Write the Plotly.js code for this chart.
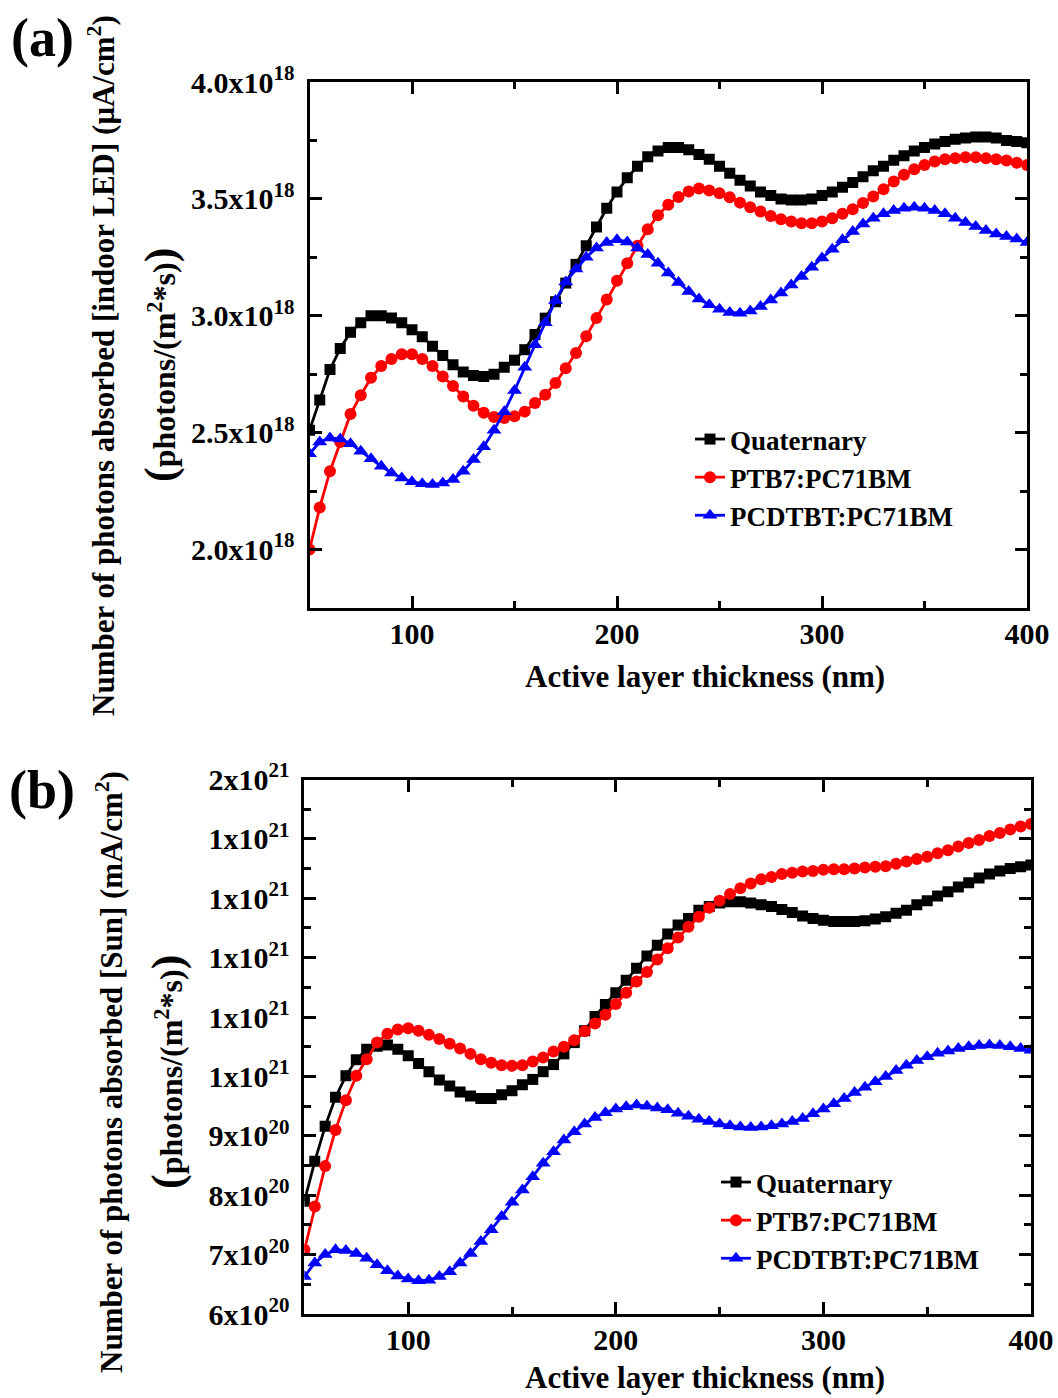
<!DOCTYPE html>
<html>
<head>
<meta charset="utf-8">
<script src="https://cdn.plot.ly/plotly-3.0.1.min.js"></script>
<style>html,body{margin:0;padding:0;background:#fff;}#chart{width:1058px;height:1398px;}</style>
</head>
<body>
<div id="chart"></div>
<script>
// Active layer thickness (nm)
var thickness = [50,55,60,65,70,75,80,85,90,95,100,105,110,115,120,125,130,135,140,145,150,155,160,165,170,175,180,185,190,195,200,205,210,215,220,225,230,235,240,245,250,255,260,265,270,275,280,285,290,295,300,305,310,315,320,325,330,335,340,345,350,355,360,365,370,375,380,385,390,395,400];

// (a) indoor LED, photons/(m^2*s), in units of 1e18
var quatLED = [2.51,2.64,2.77,2.86,2.93,2.97,3.00,3.00,2.99,2.97,
  2.94,2.91,2.87,2.83,2.79,2.76,2.745,2.74,2.75,2.78,
  2.81,2.855,2.92,2.99,3.06,3.14,3.22,3.30,3.38,3.46,
  3.53,3.59,3.64,3.68,3.705,3.72,3.72,3.71,3.69,3.67,
  3.64,3.61,3.58,3.555,3.53,3.515,3.50,3.495,3.495,3.50,
  3.515,3.53,3.55,3.57,3.595,3.62,3.64,3.665,3.685,3.705,
  3.72,3.735,3.745,3.755,3.76,3.765,3.765,3.76,3.75,3.745,
  3.74];
var ptb7LED = [2.00,2.18,2.335,2.46,2.58,2.66,2.735,2.785,2.815,2.835,
  2.835,2.815,2.785,2.74,2.70,2.655,2.615,2.585,2.567,2.563,
  2.57,2.59,2.627,2.662,2.712,2.776,2.841,2.912,2.99,3.07,
  3.15,3.225,3.30,3.37,3.43,3.475,3.508,3.532,3.544,3.536,
  3.524,3.507,3.484,3.464,3.446,3.427,3.413,3.403,3.396,3.396,
  3.403,3.417,3.436,3.456,3.482,3.51,3.541,3.574,3.603,3.627,
  3.645,3.66,3.67,3.674,3.678,3.678,3.674,3.67,3.664,3.655,
  3.645];
var pcdtbtLED = [2.41,2.46,2.477,2.473,2.453,2.42,2.388,2.356,2.328,2.306,
  2.29,2.282,2.278,2.285,2.30,2.335,2.385,2.44,2.51,2.59,
  2.68,2.78,2.876,2.97,3.065,3.145,3.20,3.25,3.29,3.313,
  3.325,3.316,3.29,3.262,3.225,3.183,3.142,3.104,3.072,3.047,
  3.028,3.014,3.011,3.02,3.04,3.068,3.097,3.132,3.168,3.208,
  3.247,3.285,3.325,3.36,3.393,3.417,3.436,3.45,3.46,3.464,
  3.46,3.45,3.436,3.417,3.399,3.382,3.365,3.35,3.339,3.328,
  3.313];

// (b) Sun, photons/(m^2*s), in units of 1e21
var quatSun = [0.79,0.857,0.916,0.965,1.001,1.028,1.046,1.051,1.053,1.046,
  1.035,1.022,1.008,0.994,0.984,0.974,0.967,0.963,0.963,0.969,
  0.976,0.986,0.995,1.008,1.02,1.038,1.057,1.077,1.101,1.121,
  1.141,1.162,1.182,1.203,1.221,1.24,1.255,1.266,1.28,1.286,
  1.292,1.294,1.294,1.292,1.289,1.286,1.281,1.276,1.27,1.266,
  1.263,1.261,1.261,1.261,1.262,1.265,1.269,1.275,1.28,1.289,
  1.296,1.304,1.311,1.319,1.326,1.334,1.341,1.346,1.35,1.353,
  1.356];
var ptb7Sun = [0.708,0.781,0.849,0.91,0.96,1.001,1.029,1.057,1.072,1.079,
  1.081,1.077,1.07,1.063,1.055,1.047,1.038,1.029,1.023,1.019,
  1.018,1.019,1.025,1.032,1.042,1.05,1.061,1.076,1.089,1.104,
  1.122,1.141,1.16,1.176,1.197,1.216,1.234,1.252,1.269,1.284,
  1.296,1.307,1.317,1.325,1.332,1.336,1.341,1.343,1.345,1.346,
  1.348,1.349,1.349,1.35,1.352,1.353,1.354,1.358,1.362,1.366,
  1.37,1.376,1.381,1.387,1.393,1.398,1.405,1.41,1.416,1.421,
  1.425];
var pcdtbtSun = [0.663,0.686,0.70,0.708,0.707,0.702,0.694,0.683,0.673,0.664,
  0.659,0.656,0.657,0.663,0.671,0.686,0.702,0.722,0.742,0.764,
  0.788,0.809,0.831,0.854,0.873,0.893,0.907,0.92,0.931,0.939,
  0.945,0.949,0.952,0.95,0.947,0.944,0.938,0.933,0.928,0.924,
  0.92,0.917,0.915,0.914,0.915,0.917,0.92,0.924,0.929,0.937,
  0.945,0.954,0.963,0.973,0.982,0.991,1.0,1.01,1.019,1.027,
  1.033,1.039,1.043,1.047,1.05,1.052,1.053,1.052,1.05,1.047,
  1.044];

var seriesNames = ["Quaternary", "PTB7:PC71BM", "PCDTBT:PC71BM"];

// tick values / labels
var yTickValsA = [2.0e18, 2.5e18, 3.0e18, 3.5e18, 4.0e18];
var yTickTextA = ["2.0x10<sup>18</sup>","2.5x10<sup>18</sup>","3.0x10<sup>18</sup>","3.5x10<sup>18</sup>","4.0x10<sup>18</sup>"];
var yMinorA = [2.25e18, 2.75e18, 3.25e18, 3.75e18];
var yTickValsB = [6e20, 7e20, 8e20, 9e20, 1.0e21, 1.1e21, 1.2e21, 1.3e21, 1.4e21, 1.5e21];
var yTickTextB = ["6x10<sup>20</sup>","7x10<sup>20</sup>","8x10<sup>20</sup>","9x10<sup>20</sup>","1x10<sup>21</sup>","1x10<sup>21</sup>","1x10<sup>21</sup>","1x10<sup>21</sup>","1x10<sup>21</sup>","2x10<sup>21</sup>"];
var yMinorB = [6.5e20, 7.5e20, 8.5e20, 9.5e20, 1.05e21, 1.15e21, 1.25e21, 1.35e21, 1.45e21];
var xTickVals = [100, 200, 300, 400];
var xMinor = [150, 250, 350];

function scale(arr, f) { return arr.map(function (v) { return v * f; }); }

var FONT = "Liberation Serif, Times New Roman, serif";
var colors = ["#000000", "#ff0000", "#0000ff"];
var symbols = ["square", "circle", "triangle-up"];
var msizes = [11, 12, 13];

function mk(y, i, xa, ya, leg) {
  return {
    x: thickness, y: y, type: "scatter", mode: "lines+markers",
    name: seriesNames[i], xaxis: xa, yaxis: ya, legend: leg,
    line: {color: colors[i], width: 2.8},
    marker: {color: colors[i], symbol: symbols[i], size: msizes[i], line: {width: 0}}
  };
}

var data = [
  mk(scale(quatLED, 1e18), 0, "x", "y", "legend"),
  mk(scale(ptb7LED, 1e18), 1, "x", "y", "legend"),
  mk(scale(pcdtbtLED, 1e18), 2, "x", "y", "legend"),
  mk(scale(quatSun, 1e21), 0, "x2", "y2", "legend2"),
  mk(scale(ptb7Sun, 1e21), 1, "x2", "y2", "legend2"),
  mk(scale(pcdtbtSun, 1e21), 2, "x2", "y2", "legend2")
];

var W = 1058, H = 1398;
function px(v) { return v / W; }
function py(v) { return 1 - v / H; }

var tickFont = {family: FONT, size: 30, color: "#000", weight: "bold"};

function xAxis(d, anchor) {
  return {
    domain: d, anchor: anchor, range: [50, 400],
    tickmode: "array", tickvals: xTickVals,
    ticks: "inside", ticklen: 12, tickwidth: 3, tickcolor: "#000",
    showline: true, linewidth: 3, linecolor: "#000", mirror: "allticks",
    showgrid: false, zeroline: false, tickfont: tickFont, ticklabelstandoff: -3,
    minor: {tickmode: "array", tickvals: xMinor, ticks: "inside", ticklen: 7, tickwidth: 3, tickcolor: "#000", showgrid: false}
  };
}
function yAxis(d, anchor, range, tv, tt, mv) {
  return {
    domain: d, anchor: anchor, range: range,
    tickmode: "array", tickvals: tv, ticktext: tt,
    ticks: "inside", ticklen: 12, tickwidth: 3, tickcolor: "#000",
    showline: true, linewidth: 3, linecolor: "#000", mirror: "allticks",
    showgrid: false, zeroline: false, tickfont: tickFont, ticklabelstandoff: 6,
    minor: {tickmode: "array", tickvals: mv, ticks: "inside", ticklen: 7, tickwidth: 3, tickcolor: "#000", showgrid: false}
  };
}

var big = '<span style="font-size:44px">';

function ann(text, x, y, angle, size) {
  return {
    text: text, xref: "paper", yref: "paper", x: px(x), y: py(y),
    xanchor: "center", yanchor: "middle", showarrow: false, textangle: angle,
    font: {family: FONT, size: size || 31, color: "#000", weight: "bold"}
  };
}

var legFont = {family: FONT, size: 27, color: "#000", weight: "bold"};
var photonsUnit = big + "(</span>photons/(m<sup>2</sup>*s)" + big + ")</span>";

var layout = {
  width: W, height: H,
  margin: {l: 0, r: 0, t: 0, b: 0},
  paper_bgcolor: "#ffffff", plot_bgcolor: "#ffffff",
  xaxis: xAxis([px(309.5), px(1027)], "y"),
  yaxis: yAxis([py(608), py(82)], "x", [1.75e18, 4.0e18], yTickValsA, yTickTextA, yMinorA),
  xaxis2: xAxis([px(304.4), px(1031)], "y2"),
  yaxis2: yAxis([py(1314), py(779.5)], "x2", [6e20, 1.5e21], yTickValsB, yTickTextB, yMinorB),
  showlegend: true,
  legend: {x: px(690), y: py(415), xanchor: "left", yanchor: "top", bgcolor: "rgba(0,0,0,0)",
           borderwidth: 0, tracegroupgap: 0, font: legFont},
  legend2: {x: px(716), y: py(1158), xanchor: "left", yanchor: "top", bgcolor: "rgba(0,0,0,0)",
           borderwidth: 0, tracegroupgap: 0, font: legFont},
  annotations: [
    ann("(a)", 42, 38, 0, 54),
    ann("(b)", 42, 790, 0, 54),
    ann("Active layer thickness (nm)", 705, 676, 0),
    ann("Active layer thickness (nm)", 705, 1377, 0),
    ann("Number of photons absorbed [indoor LED] (μA/cm<sup>2</sup>)", 102, 366, -90),
    ann(photonsUnit, 160, 365, -90, 32),
    ann("Number of photons absorbed [Sun] (mA/cm<sup>2</sup>)", 109, 1072, -90),
    ann(photonsUnit, 167, 1072, -90, 32)
  ]
};

Plotly.newPlot("chart", data, layout, {staticPlot: true, displayModeBar: false});
</script>
</body>
</html>
